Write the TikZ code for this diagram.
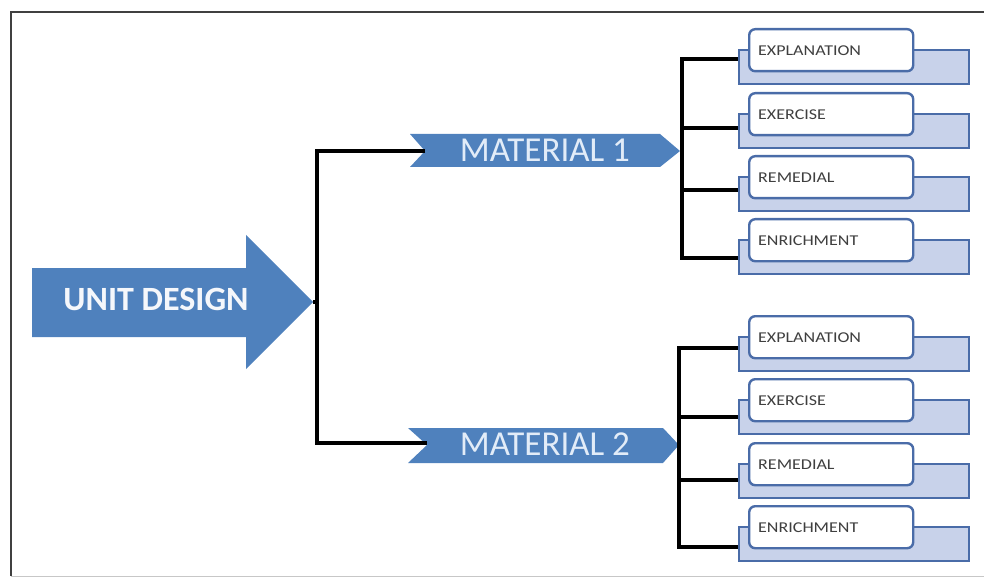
\documentclass[tikz,border=0pt]{standalone}
\usepackage{fontspec}
\setmainfont{Carlito}
\newfontfamily\smallf[FakeStretch=1.2]{Carlito}
\definecolor{ublue}{HTML}{4F81BD}
\definecolor{mtext}{HTML}{E2ECF8}
\definecolor{backfill}{HTML}{C8D2EA}
\definecolor{boxline}{HTML}{4A6CA8}
\definecolor{txt}{HTML}{3F3F3F}
\begin{document}
\begin{tikzpicture}[x=1pt,y=-1pt,
  conn/.style={line width=3.3pt,black},
  backbox/.style={draw=boxline,fill=backfill,line width=2.4pt,anchor=north west,minimum width=230pt,minimum height=34pt,inner sep=0pt},
  frontbox/.style={draw=boxline,fill=white,line width=2.4pt,rounded corners=6pt,anchor=north west,minimum width=164pt,minimum height=42pt,text width=146pt,inner xsep=9pt,inner ysep=0pt,align=left,font=\smallf\fontsize{15}{15}\selectfont,text=txt},
  mattext/.style={font=\fontsize{35}{35}\selectfont,text=mtext,inner sep=0pt},
  unittext/.style={font=\fontsize{34}{34}\selectfont\bfseries,text=white!94!ublue,inner sep=0pt}]
\useasboundingbox (0,0) rectangle (984,577);
% frame
\draw[line width=2pt,black!75] (11,576) -- (11,12) -- (984,12);
\draw[line width=1pt,black!22] (11,576) -- (984,576);
% unit design arrow
\fill[ublue] (32,268) -- (246,268) -- (246,235) -- (313,302) -- (246,369) -- (246,337) -- (32,337) -- cycle;
\node[unittext] (unit) at (156,299) {UNIT DESIGN};
\coordinate (utip) at (313,302);
\coordinate (split) at (317,302);
% material chevrons
\fill[ublue] (410,134) -- (660,134) -- (680,151) -- (660,167) -- (410,167) -- (425,151) -- cycle;
\node[mattext] (m1) at (545,150) {MATERIAL 1};
\coordinate (m1in) at (425,151);
\coordinate (m1out) at (680,151);
\fill[ublue] (408,428) -- (663,428) -- (679,445) -- (663,463) -- (408,463) -- (427,445) -- cycle;
\node[mattext] (m2) at (545,444) {MATERIAL 2};
\coordinate (m2in) at (427,443);
\coordinate (m2out) at (679,445);
\draw[conn] (m1in) -| (split) |- (m2in);
\draw[conn] (utip) -- (split);
% group 1
\foreach \t/\b/\lab [count=\i] in {28/59/EXPLANATION,92/128/EXERCISE,155/190/REMEDIAL,218/258/ENRICHMENT}{
  \node[backbox] (gaback\i) at (738,\t+21) {};
  \coordinate (gabr\i) at (682,\b);
  \draw[conn] (gabr\i) -- (gaback\i.west |- gabr\i);
  \node[frontbox] (ga\i) at (748,\t) {\lab};
}
\draw[conn] ([yshift=1.6pt]gabr1) -- ([yshift=-1.6pt]gabr4);
% group 2
\foreach \t/\b/\lab [count=\i] in {315/348/EXPLANATION,378/417/EXERCISE,442/480/REMEDIAL,505/547/ENRICHMENT}{
  \node[backbox] (gbback\i) at (738,\t+21) {};
  \coordinate (gbbr\i) at (679,\b);
  \draw[conn] (gbbr\i) -- (gbback\i.west |- gbbr\i);
  \node[frontbox] (gb\i) at (748,\t) {\lab};
}
\draw[conn] ([yshift=1.6pt]gbbr1) -- ([yshift=-1.6pt]gbbr4);
\end{tikzpicture}
\end{document}
